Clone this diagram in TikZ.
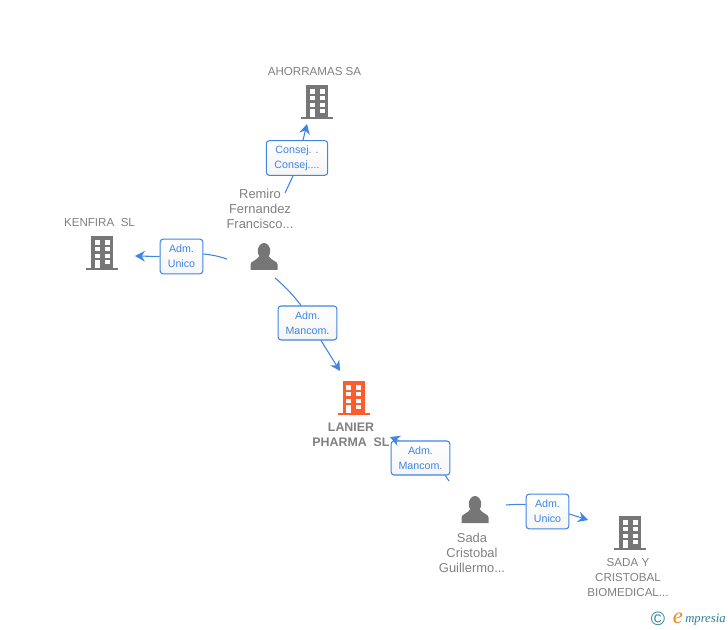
\documentclass[tikz,border=0pt]{standalone}
\usepackage{fontspec}
\usepackage{xcolor}
\usetikzlibrary{calc,arrows.meta}
\setmainfont{Liberation Sans}
\newfontfamily\logofont{Liberation Serif}
\definecolor{muted}{HTML}{808080}
\definecolor{icon}{HTML}{767676}
\definecolor{main}{HTML}{FF5C2E}
\definecolor{link}{HTML}{3F85E5}
\definecolor{logoteal}{HTML}{2A7F96}
\definecolor{logoorange}{HTML}{F08A1D}
\tikzset{
  lab/.style={text=muted, align=center, inner sep=0pt, font=\fontsize{8.7}{11.25}\selectfont},
  personlab/.style={lab, font=\fontsize{9.7}{11.25}\selectfont},
  mainlab/.style={lab, font=\fontsize{9.3}{11.25}\selectfont\bfseries},
  role/.style={draw=link, line width=0.8pt, rounded corners=2.2pt, top color=white, bottom color=black!4,
    text=link, align=center, inner sep=0pt, font=\fontsize{8}{11.25}\selectfont},
  link/.style={draw=link, line width=0.8pt},
  linkarrow/.style={link, -{Stealth[length=7.5pt,width=8pt,inset=2.5pt]}},
  building/.pic={
    \fill[#1] (-11,0) rectangle (11,32);
    \fill[#1] (-16,32) rectangle (16,34);
    \foreach \y/\h in {4/5,11/4,18/4} {
      \fill[white] (-7.5,\y) rectangle ++(5,\h);
      \fill[white] (2.5,\y) rectangle ++(5,\h);
    }
    \fill[white] (-7.5,24) rectangle (-2.5,32);
    \fill[white] (2.5,24) rectangle (7.5,28);
  },
  person/.pic={
    \fill[icon] (0,8) ellipse (6.2 and 8);
    \fill[icon] (-13.5,27) -- (-13.5,21.5) .. controls (-13.5,18) and (-7,17.5) .. (-4.5,13)
      -- (4.5,13) .. controls (7,17.5) and (13.5,18) .. (13.5,21.5) -- (13.5,27) -- cycle;
  },
}

\begin{document}
\begin{tikzpicture}[x=0.75pt, y=-0.75pt]
\useasboundingbox (0,0) rectangle (728,630);
% companies
\pic (ahorramas) at (317,85) {building=icon};
\node[lab] (ahorramaslab) at (314.5,71.8) {AHORRAMAS SA};
\pic (kenfira) at (102,236) {building=icon};
\node[lab] (kenfiralab) at (99.5,222.8) {KENFIRA\ \ SL};
\pic (lanier) at (353.5,381) {building=main};
\node[mainlab] (lanierlab) at (351,434.5) {LANIER\\PHARMA\ \ SL};
\pic (biomedical) at (630,516) {building=icon};
\node[lab] (biomedicallab) at (628,577.8) {SADA Y\\CRISTOBAL\\BIOMEDICAL...};

% people
\pic (remiro) at (264,243) {person};
\node[personlab] (remirolab) at (260,209) {Remiro\\Fernandez\\Francisco...};
\pic (sada) at (475,496) {person};
\node[personlab] (sadalab) at (472,552.8) {Sada\\Cristobal\\Guillermo...};

% roles
\node[role, minimum width=46pt, minimum height=26pt] (consej) at (297,158) {Consej. .\\Consej....};
\node[role, minimum width=32pt, minimum height=26pt] (unicoleft) at (181.5,256.5) {Adm.\\Unico};
\node[role, minimum width=44pt, minimum height=25.5pt] (mancomtop) at (307.5,323) {Adm.\\Mancom.};
\node[role, minimum width=44pt, minimum height=25.5pt] (mancombottom) at (420.5,458) {Adm.\\Mancom.};
\node[role, minimum width=32pt, minimum height=26pt] (unicoright) at (547.5,511.5) {Adm.\\Unico};

% free ends of the connectors
\coordinate (consejin) at (285,193);
\coordinate (consejout) at (307,124);
\coordinate (unicoleftin) at (227,259);
\coordinate (unicoleftout) at (135,256);
\coordinate (mancomtopin) at (275,278);
\coordinate (mancomtopout) at (340,371);
\coordinate (mancombottomin) at (449,481);
\coordinate (mancombottomout) at (390,437);
\coordinate (unicorightin) at (506,505);
\coordinate (unicorightout) at (588,520);

% connectors
\draw[link] (consejin) -- ($(consej.south)+(-4,0)$);
\draw[linkarrow] ($(consej.north)+(6,0)$) -- (consejout);
\draw[link] (unicoleftin) to[bend right=6] ($(unicoleft.east)+(0,-2.5)$);
\draw[linkarrow] (unicoleft.west) -- (unicoleftout);
\draw[link] (mancomtopin) to[bend left=6] ($(mancomtop.north)+(-6.5,0)$);
\draw[linkarrow] ($(mancomtop.south)+(13.5,0)$) -- (mancomtopout);
\draw[link] (mancombottomin) -- ($(mancombottom.south east)+(-5,0)$);
\draw[linkarrow] ($(mancombottom.north west)+(8,0)$) -- (mancombottomout);
\draw[link] (unicorightin) to[bend left=3] ($(unicoright.west)+(0,-7)$);
\draw[linkarrow] ($(unicoright.east)+(0,2.5)$) -- (unicorightout);

% logo
\node[inner sep=0pt, text=logoteal, font=\fontsize{14.5}{14.5}\selectfont] (logoc) at (658,619) {\textcopyright};
\node[inner sep=0pt, text=logoorange, font=\logofont\itshape\fontsize{17}{17}\selectfont] (logoe) at (678,618) {e};
\node[inner sep=0pt, text=logoteal, anchor=west, font=\logofont\itshape\fontsize{9.5}{9.5}\selectfont] (logotext) at (685,620) {mpresia};
\end{tikzpicture}
\end{document}
